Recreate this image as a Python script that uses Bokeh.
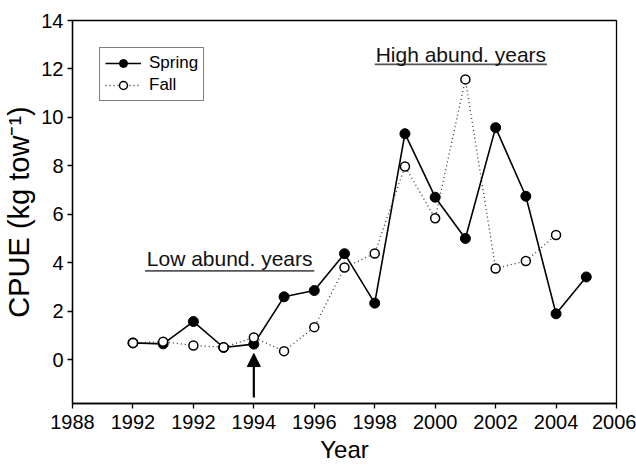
from bokeh.plotting import figure
from bokeh.models import (Range1d, FixedTicker, Legend, LegendItem, Label, Arrow, NormalHead)
from bokeh.embed import file_html
from bokeh.resources import INLINE

# ---- data ----
spring_years = [1990, 1991, 1992, 1993, 1994, 1995, 1996, 1997, 1998, 1999, 2000, 2001, 2002, 2003, 2004, 2005]
spring_cpue = [0.70, 0.66, 1.58, 0.51, 0.65, 2.60, 2.86, 4.38, 2.34, 9.33, 6.71, 5.01, 9.58, 6.75, 1.90, 3.42]
fall_years = [1990, 1991, 1992, 1993, 1994, 1995, 1996, 1997, 1998, 1999, 2000, 2001, 2002, 2003, 2004]
fall_cpue = [0.70, 0.75, 0.59, 0.52, 0.92, 0.36, 1.35, 3.81, 4.39, 7.98, 5.84, 11.57, 3.77, 4.08, 5.15]

x_ticks = [1988, 1990, 1992, 1994, 1996, 1998, 2000, 2002, 2004, 2006]
x_tick_labels = ["1988", "1992", "1992", "1994", "1996", "1998", "2000", "2002", "2004", "2006"]
y_ticks = [0, 2, 4, 6, 8, 10, 12, 14]

x_title = "Year"
y_title = "CPUE (kg tow\u207b\u00b9)"

low_label = "Low abund. years"
low_span = [1990.4, 1996.0]
low_line_y = 3.67
low_text_y = 4.2
high_label = "High abund. years"
high_span = [1998.0, 2003.7]
high_line_y = 12.19
high_text_y = 12.6

arrow_year = 1994
arrow_from = -1.55
arrow_to = 0.26

FONT = "Liberation Sans"

p = figure(width=636, height=467, output_backend="svg", toolbar_location=None,
           x_range=Range1d(1988, 2006), y_range=Range1d(-1.8, 14),
           min_border_left=72, min_border_right=20, min_border_top=20, min_border_bottom=64)

p.background_fill_color = "white"
p.border_fill_color = "white"
p.xgrid.visible = False
p.ygrid.visible = False
p.outline_line_color = "black"
p.outline_line_width = 1.3

for ax in (p.xaxis[0], p.yaxis[0]):
    ax.axis_line_width = 1.3
    ax.axis_line_color = "black"
    ax.major_tick_line_color = "black"
    ax.major_tick_line_width = 1.3
    ax.major_tick_in = 0
    ax.major_tick_out = 5
    ax.minor_tick_line_color = None
    ax.major_label_text_font = FONT
    ax.major_label_text_font_size = "20px"
    ax.major_label_text_color = "black"
    ax.axis_label_text_font = FONT
    ax.axis_label_text_font_style = "normal"
    ax.axis_label_text_color = "black"

p.xaxis.ticker = FixedTicker(ticks=x_ticks)
p.xaxis.major_label_overrides = {t: l for t, l in zip(x_ticks, x_tick_labels)}
p.xaxis.major_label_standoff = 6
p.xaxis.axis_label = x_title
p.xaxis.axis_label_text_font_size = "24px"
p.xaxis.axis_label_standoff = 4

p.yaxis.ticker = FixedTicker(ticks=y_ticks)
p.yaxis.major_label_standoff = 4
p.yaxis.axis_label = y_title
p.yaxis.axis_label_text_font_size = "29px"
p.yaxis.axis_label_standoff = 3

# underlines and labels
p.segment(x0=[low_span[0]], x1=[low_span[1]], y0=[low_line_y], y1=[low_line_y],
          line_color="#555555", line_width=1.6)
p.segment(x0=[high_span[0]], x1=[high_span[1]], y0=[high_line_y], y1=[high_line_y],
          line_color="#555555", line_width=1.6)
p.add_layout(Label(x=sum(low_span) / 2, y=low_text_y, text=low_label, text_align="center",
                   text_baseline="alphabetic", text_font=FONT, text_font_size="21px", text_color="#111111"))
p.add_layout(Label(x=sum(high_span) / 2, y=high_text_y, text=high_label, text_align="center",
                   text_baseline="alphabetic", text_font=FONT, text_font_size="21px", text_color="#111111"))

# arrow
p.add_layout(Arrow(x_start=arrow_year, y_start=arrow_from, x_end=arrow_year, y_end=arrow_to,
                   line_color="black", line_width=2.2,
                   end=NormalHead(size=13, fill_color="black", line_color="black")))

# series
sl = p.line(spring_years, spring_cpue, line_color="black", line_width=1.6)
fl = p.line(fall_years, fall_cpue, line_color="#333333", line_width=1.3, line_dash="1 3")
sp = p.scatter(spring_years, spring_cpue, size=10, marker="circle", fill_color="black", line_color="black")
fp = p.scatter(fall_years, fall_cpue, size=9, marker="circle", fill_color="white", line_color="black", line_width=1.5)

legend = Legend(items=[LegendItem(label="Spring", renderers=[sl, sp]),
                       LegendItem(label="Fall", renderers=[fl, fp])],
                location=(27, 302), orientation="vertical",
                label_text_font=FONT, label_text_font_size="17px", label_text_color="black",
                glyph_width=36, glyph_height=20, label_height=20, label_standoff=8,
                spacing=2, padding=5, margin=0,
                border_line_color="black", border_line_width=1.2,
                background_fill_color="white", background_fill_alpha=1.0)
p.add_layout(legend, "center")

open("out.html", "w").write(file_html(p, INLINE))
